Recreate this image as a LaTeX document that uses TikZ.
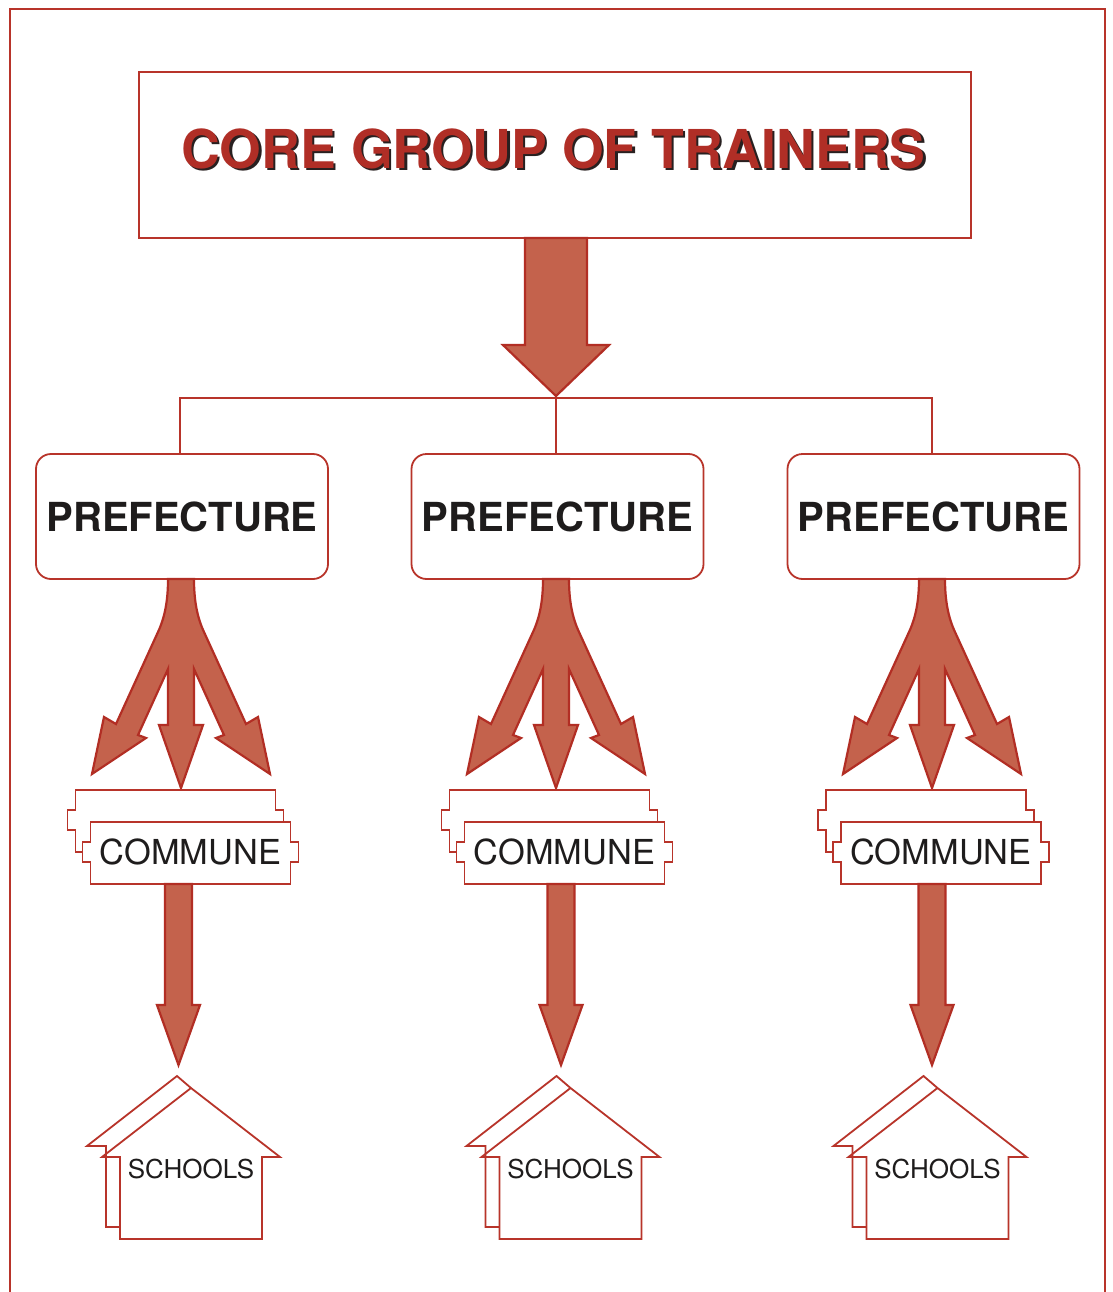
\documentclass[tikz,border=0pt]{standalone}
\usepackage{fontspec}
\setmainfont{TeX Gyre Heros}
\definecolor{linered}{RGB}{184,52,42}
\definecolor{arrowred}{RGB}{178,46,36}
\definecolor{arrowfill}{RGB}{196,98,76}
\definecolor{titlered}{RGB}{176,46,38}
\definecolor{shadowgray}{RGB}{40,32,32}
\definecolor{txtblack}{RGB}{30,28,28}
\tikzset{
  frameline/.style={draw=linered, line width=2.6pt},
  titlebox/.style={draw=linered, line width=1.8pt, minimum width=832pt, minimum height=166pt, inner sep=0pt},
  titlefont/.style={font=\fontsize{53.6}{54}\selectfont\bfseries, inner sep=0pt},
  prefbox/.style={draw=linered, line width=1.8pt, rounded corners=15pt, minimum width=292pt, minimum height=125pt, inner sep=0pt, text=txtblack, font=\fontsize{40}{40}\selectfont\bfseries},
  connector/.style={draw=linered, line width=1.2pt},
  bigarrow/.style={fill=arrowfill, draw=arrowred, line width=2.2pt, line join=miter, miter limit=10},
  communeline/.style={draw=linered, line width=1.8pt, fill=white},
  houseline/.style={draw=linered, line width=1.8pt},
  communetext/.style={text=txtblack, inner sep=0pt, font=\fontsize{34.4}{34}\selectfont},
  schooltext/.style={text=txtblack, inner sep=0pt, font=\fontsize{26}{26}\selectfont},
  tripod/.pic={
    \path[bigarrow] (-13,0) .. controls (-13,21) and (-16,38) .. (-23,53)
      -- (-65,145) -- (-77,138) -- (-89,195) -- (-35,159) -- (-43,156) -- (-13,90)
      -- (-13,146) -- (-22,146) -- (0,209) -- (22,146) -- (13,146) -- (13,90)
      -- (43,156) -- (35,159) -- (89,195) -- (77,138) -- (65,145) -- (23,53)
      .. controls (16,38) and (13,21) .. (13,0) -- cycle;
  },
  downarrow/.pic={
    \path[bigarrow] (-13.5,0) -- (-13.5,121) -- (-21.5,121) -- (0,181) -- (21.5,121) -- (13.5,121) -- (13.5,0) -- cycle;
  },
  commune/.pic={
    \path[communeline] (-115,-32) -- (85,-32) -- (85,-12) -- (93,-12) -- (93,8) -- (85,8) -- (85,30)
      -- (-115,30) -- (-115,8) -- (-123,8) -- (-123,-12) -- (-115,-12) -- cycle;
    \path[communeline] (-100,0) -- (100,0) -- (100,20) -- (108,20) -- (108,40) -- (100,40) -- (100,62)
      -- (-100,62) -- (-100,40) -- (-108,40) -- (-108,20) -- (-100,20) -- cycle;
    \node[communetext, anchor=base] (-label) at (0,42) {COMMUNE};
  },
  house/.pic={
    \draw[houseline] (0,0) -- (-14,-12) -- (-104,58) -- (-85,58) -- (-85,139) -- (-71,139);
    \draw[houseline] (0,0) -- (89,69) -- (71,69) -- (71,151) -- (-71,151) -- (-71,69) -- (-89,69) -- cycle;
    \node[schooltext, anchor=base] (-label) at (0,90) {SCHOOLS};
  }
}
\begin{document}
\begin{tikzpicture}[x=1pt,y=-1pt]
\useasboundingbox (0,0) rectangle (1112,1292);
\fill[white] (0,0) rectangle (1112,1292);
% outer frame (open at the bottom)
\draw[frameline] (10,1300) -- (10,9) -- (1105,9) -- (1105,1300);
% title
\node[titlebox] (core) at (555,155) {};
\node[titlefont, text=shadowgray, anchor=base] (coreshadow) at (555.8,170.2) {CORE GROUP OF TRAINERS};
\node[titlefont, text=titlered, anchor=base] (coretitle) at (553.5,168) {CORE GROUP OF TRAINERS};
% big arrow
\path[bigarrow] (525,238) -- (525,345) -- (503,345) -- (556,396) -- (609,345) -- (587,345) -- (587,238) -- cycle;
% prefectures
\node[prefbox] (p1) at (182,516.5) {PREFECTURE};
\node[prefbox] (p2) at (557.5,516.5) {PREFECTURE};
\node[prefbox] (p3) at (933.5,516.5) {PREFECTURE};
\coordinate (junc) at (556,398);
\coordinate (jl) at (180,398);
\coordinate (jr) at (932,398);
\draw[connector] (jl |- p1.north) -- (jl) -- (jr) -- (jr |- p3.north);
\draw[connector] (junc) -- (junc |- p2.north);
% columns
\pic at (181,579) {tripod};
\pic at (556,579) {tripod};
\pic at (932,579) {tripod};
\pic (c1) at (190.5,822) {commune};
\pic (c2) at (564.5,822) {commune};
\pic (c3) at (941,822) {commune};
\pic at (178.5,884) {downarrow};
\pic at (561,884) {downarrow};
\pic at (932,884) {downarrow};
\pic (s1) at (191,1088) {house};
\pic (s2) at (570.5,1088) {house};
\pic (s3) at (937.5,1088) {house};
\end{tikzpicture}
\end{document}
